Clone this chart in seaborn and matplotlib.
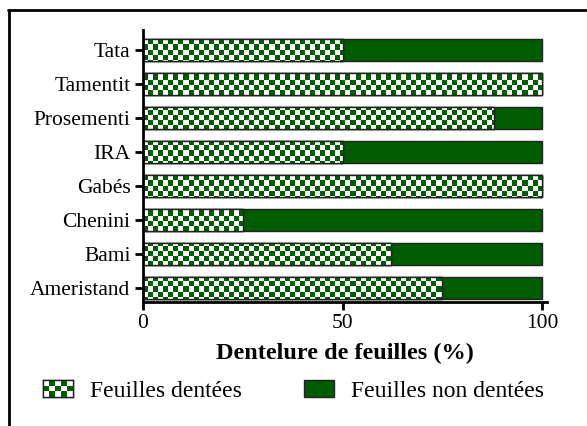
import numpy as np
import matplotlib.pyplot as plt
import seaborn as sns
from matplotlib.colors import ListedColormap
from matplotlib.lines import Line2D
from matplotlib.patches import Patch, Rectangle

varieties = ["Tata", "Tamentit", "Prosementi", "IRA", "Gabés", "Chenini", "Bami", "Ameristand"]
dentees = [50, 100, 88, 50, 100, 25, 62, 75]
non_dentees = [50, 0, 12, 50, 0, 75, 38, 25]
legend_labels = ["Feuilles dentées", "Feuilles non dentées"]

green = "#005c00"
edge = "#222222"
checker_cmap = ListedColormap(["white", green])

sns.set_style("white")
plt.rcParams["font.family"] = ["Liberation Serif", "DejaVu Serif"]
plt.rcParams["font.size"] = 15.5
plt.rcParams["text.color"] = "black"
plt.rcParams["xtick.color"] = "black"
plt.rcParams["ytick.color"] = "black"
plt.rcParams["axes.labelcolor"] = "black"

fig = plt.figure(figsize=(5.87, 4.26), dpi=100)
ax = fig.add_axes([143 / 587, 1 - 302 / 426, (547 - 143) / 587, (302 - 30) / 426])

totals = [d + n for d, n in zip(dentees, non_dentees)]
sns.barplot(x=totals, y=varieties, color=green, saturation=1, width=0.65,
            edgecolor=edge, linewidth=1, ax=ax, orient="h")
sns.barplot(x=dentees, y=varieties, color="white", saturation=1, width=0.65,
            edgecolor=edge, linewidth=1, ax=ax, orient="h")

xlim = (0, 101.2)
ylim = (7.41, -0.59)


def checker(nx, ny):
    return (np.add.outer(np.arange(ny), np.arange(nx)) % 2).astype(float)


# checkerboard fill clipped to the "dentées" bars (cells about 5 px)
board = checker(404 // 5, 272 // 5)
for bar in ax.containers[1]:
    im = ax.imshow(board, cmap=checker_cmap, extent=(xlim[0], xlim[1], ylim[0], ylim[1]),
                   aspect="auto", interpolation="nearest", zorder=bar.get_zorder() + 0.1)
    im.set_clip_path(bar)
    outline = Rectangle(bar.get_xy(), bar.get_width(), bar.get_height(), fill=False,
                        edgecolor=edge, linewidth=1, zorder=bar.get_zorder() + 0.2)
    ax.add_patch(outline)

ax.set_xlim(*xlim)
ax.set_ylim(*ylim)
ax.set_xticks([0, 50, 100])
ax.set_xlabel("Dentelure de feuilles (%)", fontweight="bold", fontsize=17.5, labelpad=7)
ax.set_ylabel("")
sns.despine(ax=ax)
for side in ["left", "bottom"]:
    ax.spines[side].set_linewidth(2)
    ax.spines[side].set_color("black")
ax.tick_params(axis="both", direction="out", length=6, width=2, color="black",
               labelsize=15.5, left=True, bottom=True, pad=3)

handles = [Patch(facecolor="white", edgecolor=edge), Patch(facecolor=green, edgecolor=edge)]
leg = fig.legend(handles, legend_labels, loc="center", bbox_to_anchor=(0.5, 1 - 391 / 426),
                 ncol=2, frameon=False, handlelength=1.27, handleheight=0.72,
                 handletextpad=0.72, columnspacing=2.6, fontsize=17)

# checkerboard on the first legend key
fig.canvas.draw()
key = leg.legend_handles[0]
bb = key.get_window_extent(fig.canvas.get_renderer()).transformed(fig.transFigure.inverted())
kax = fig.add_axes([bb.x0, bb.y0, bb.width, bb.height], zorder=10)
kax.imshow(checker(5, 3), cmap=checker_cmap, aspect="auto", interpolation="nearest")
kax.set_xticks([])
kax.set_yticks([])
for s in kax.spines.values():
    s.set_linewidth(1)
    s.set_color(edge)

# outer frame (top and left edges only, as cropped)
fig.add_artist(Line2D([8 / 587, 1], [1 - 10 / 426, 1 - 10 / 426], color="black", lw=2))
fig.add_artist(Line2D([9 / 587, 9 / 587], [1 - 10 / 426, 0], color="black", lw=2))

fig.savefig("out.png", dpi=100)
